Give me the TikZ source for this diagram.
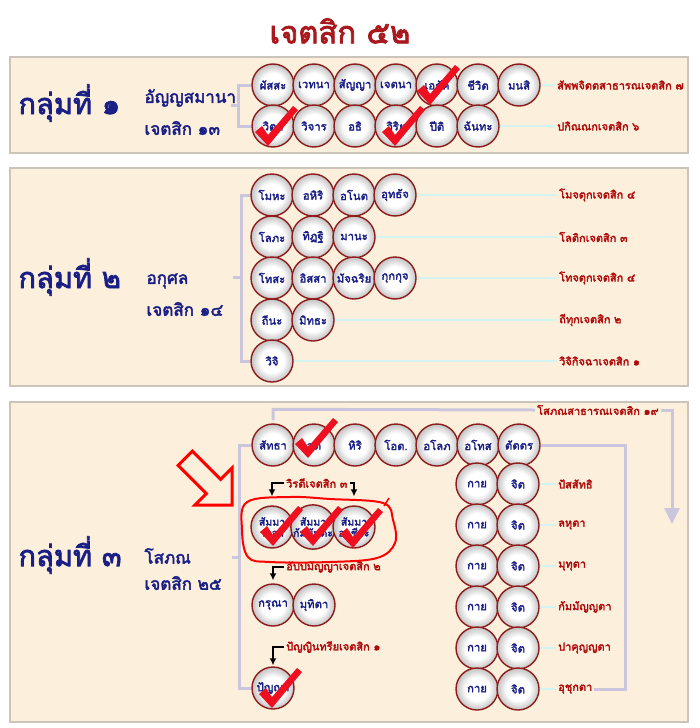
\documentclass[tikz,border=0pt]{standalone}
\usepackage{fontspec}
\setmainfont[Script=Thai, AutoFakeBold=2.5]{Loma}
\usepackage{tikz}
\usetikzlibrary{arrows.meta}
\definecolor{cream}{HTML}{FCF0DC}
\definecolor{framegray}{HTML}{CBC4BA}
\definecolor{navy}{HTML}{1A1F86}
\definecolor{labred}{HTML}{B00A0A}
\definecolor{ringred}{HTML}{8E1B1B}
\definecolor{lavender}{HTML}{CCC5DE}
\definecolor{paleteal}{HTML}{D3F3F1}
\definecolor{titlered}{HTML}{A8181C}
\definecolor{tickred}{HTML}{EE1020}
\pgfdeclareradialshading{pearl}{\pgfpoint{0bp}{0bp}}{color(0bp)=(white); color(14bp)=(white); color(25bp)=(black!24); color(50bp)=(black!24)}
\begin{document}
\begin{tikzpicture}[x=1pt,y=-1pt,>=Stealth,
  panel/.style={fill=cream, draw=framegray, line width=2pt},
  circ/.style={circle, draw=ringred, line width=1.4pt, minimum size=42pt, inner sep=0pt,
    shading=pearl, align=center,
    font=\fontsize{11.3}{11}\selectfont\bfseries, text=navy},
  head/.style={font=\fontsize{31}{34}\selectfont\bfseries, text=titlered},
  grp/.style={font=\fontsize{29}{32}\selectfont\bfseries, text=navy, anchor=west},
  sub/.style={font=\fontsize{17}{20}\selectfont\bfseries, text=navy, anchor=west},
  lbl/.style={font=\fontsize{11}{12}\selectfont\bfseries, text=labred, anchor=west, inner sep=2pt},
  brk/.style={draw=lavender, line width=3pt},
  lnk/.style={draw=paleteal, line width=2.5pt},
  tag/.style={draw=black, line width=2.2pt, -{Latex[length=7pt,width=7pt]}},
  redtick/.pic={\fill[tickred] (0,3) -- (-13,-11) -- (-6,-17) -- (0,-8) -- (25,-37) -- (30,-33) -- cycle;}]
\useasboundingbox (0,0) rectangle (700,728);
\node[head] (title) at (340,31) {เจตสิก ๕๒};

% group 1
\draw[panel] (10,57) rectangle (688,153);
\node[grp] (grp1) at (15,103) {กลุ่มที่ ๑};
\node[sub] (sub1a) at (141,98) {อัญญสมานา};
\node[sub] (sub1b) at (141,128) {เจตสิก ๑๓};
\foreach \t [count=\i] in {ผัสสะ,เวทนา,สัญญา,เจตนา,เอกัค,ชีวิต,มนสิ}
  \node[circ] (a\i) at ({232+41*\i},85) {\t};
\foreach \t [count=\i] in {วิตก,วิจาร,อธิ,วิริย,ปีติ,ฉันทะ}
  \node[circ] (b\i) at ({232+41*\i},126) {\t};
\node[lbl] (l1) at (555,85) {สัพพจิตตสาธารณเจตสิก ๗};
\node[lbl] (l2) at (555,126) {ปกิณณกเจตสิก ๖};
\draw[lnk] (a7) -- (l1);
\draw[lnk] (b6) -- (l2);
\coordinate (k1) at (231,105);
\draw[brk] (a1.west) -- ++(-13,0) |- (b1.west);
\draw[brk] (k1) -- ++(9,0);

% group 2
\draw[panel] (10,168) rectangle (688,386);
\node[grp] (grp2) at (15,277) {กลุ่มที่ ๒};
\node[sub] (sub2a) at (143,281) {อกุศล};
\node[sub] (sub2b) at (143,309) {เจตสิก ๑๔};
\foreach \t [count=\i] in {โมหะ,อหิริ,อโนต,อุทธัจ}
  \node[circ] (c\i) at ({231+41*\i},195) {\t};
\foreach \t [count=\i] in {โลภะ,ทิฏฐิ,มานะ}
  \node[circ] (d\i) at ({231+41*\i},237) {\t};
\foreach \t [count=\i] in {โทสะ,อิสสา,มัจฉริย,กุกกุจ}
  \node[circ] (e\i) at ({231+41*\i},278) {\t};
\foreach \t [count=\i] in {ถีนะ,มิทธะ}
  \node[circ] (f\i) at ({231+41*\i},320) {\t};
\node[circ] (h1) at (272,361) {วิจิ};
\node[lbl] (l3) at (557,195) {โมจตุกเจตสิก ๔};
\node[lbl] (l4) at (557,237) {โลติกเจตสิก ๓};
\node[lbl] (l5) at (557,278) {โทจตุกเจตสิก ๔};
\node[lbl] (l6) at (557,320) {ถีทุกเจตสิก ๒};
\node[lbl] (l7) at (557,361) {วิจิกิจฉาเจตสิก ๑};
\draw[lnk] (c4) -- (l3);
\draw[lnk] (d3) -- (l4);
\draw[lnk] (e4) -- (l5);
\draw[lnk] (f2) -- (l6);
\draw[lnk] (h1) -- (l7);
\coordinate (k2) at (233,277);
\draw[brk] (c1.west) -- ++(-9,0) |- (h1.west);
\draw[brk] (k2) -- ++(9,0);

% group 3
\draw[panel] (10,402) rectangle (688,722);
\node[grp] (grp3) at (15,555) {กลุ่มที่ ๓};
\node[sub] (sub3a) at (141,556) {โสภณ};
\node[sub] (sub3b) at (141,583) {เจตสิก ๒๕};
\foreach \t [count=\i] in {สัทธา,สติ,หิริ,โอต.,อโลภ,อโทส,ตัตตร}
  \node[circ] (s\i) at ({232+41*\i},445) {\t};
\foreach \t [count=\i] in {ปัสสัทธิ,ลหุตา,มุทุตา,กัมมัญญตา,ปาคุญญตา,อุชุกตา} {
  \node[circ] (q\i) at (477,{443+41*\i}) {กาย};
  \node[circ] (z\i) at (518,{443+41*\i}) {จิต};
  \node[lbl] (w\i) at (556,{443+41*\i}) {\t};
  \draw[lnk] (z\i) -- (w\i);
}
\foreach \t [count=\i] in {สัมมา\\วาจา,สัมมา\\กัมมันตะ,สัมมา\\อาชีวะ}
  \node[circ, font=\fontsize{10.5}{11}\selectfont\bfseries] (v\i) at ({231+41*\i},527) {\t};
\node[circ] (m1) at (273,605) {กรุณา};
\node[circ] (m2) at (314,605) {มุทิตา};
\node[circ] (p1) at (273,688) {ปัญญา};
\node[lbl] (sob) at (535,410) {โสภณสาธารณเจตสิก ๑๙};
\node[lbl] (vlab) at (284,483) {วิรตีเจตสิก ๓};
\node[lbl] (alab) at (284,567) {อัปปมัญญาเจตสิก ๒};
\node[lbl] (plab) at (284,647) {ปัญญินทรียเจตสิก ๑};
\coordinate (k3) at (232,557);
\draw[brk] (s1.west) -- ++(-12,0) |- (p1.west);
\draw[brk] (k3) -- ++(8,0);
\draw[brk] ([yshift=3pt]s1.north) -- ++(0,-11) -- (sob.west);
\draw[brk, -{Triangle[length=16pt,width=15pt]}] (sob.east) -- (672,410) -- (672,524);
\draw[brk] (s7.east) -- (625,445) |- (w6.east);
\draw[tag, shorten >=9pt] (vlab.west) -| (v1.north);
\draw[tag, shorten >=9pt] (vlab.east) -| (v3.north);
\draw[tag, shorten >=3pt] (alab.west) -| (m1.north);
\draw[tag, shorten >=1pt] (plab.west) -| (p1.north);

% ticks and marks
\pic at (430,102) {redtick};
\pic at (268,143) {redtick};
\pic at (395,143) {redtick};
\pic at (308,455) {redtick};
\pic at (273,543) {redtick};
\pic at (313,543) {redtick};
\pic at (353,545) {redtick};
\pic at (272,705) {redtick};
\draw[red, line width=2pt] plot[smooth cycle, tension=0.6] coordinates
  {(247,502) (290,497) (330,499) (383,503) (393,520) (395,543) (377,558) (330,562) (270,562) (248,557) (242,530)};
\draw[red, line width=1.5pt] (384,506) -- (389,498);
\draw[red, line width=3pt, line join=miter] (232,505) -- (195,505) -- (206.4,493.6) -- (178.1,465.3)
  -- (192.3,451.1) -- (220.6,479.4) -- (232,468) -- cycle;
\end{tikzpicture}
\end{document}
